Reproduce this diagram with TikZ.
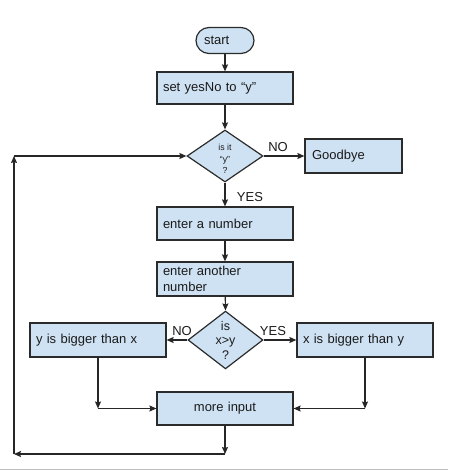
\documentclass[tikz,border=0pt]{standalone}
\usepackage{fontspec}
\setmainfont{Liberation Sans}
\usetikzlibrary{arrows.meta,shapes.geometric}
\definecolor{boxfill}{HTML}{CFE2F3}
\definecolor{boxline}{HTML}{2B2B2B}
\definecolor{txt}{HTML}{1A1A1A}
\begin{document}
\begin{tikzpicture}[x=1pt,y=-1pt,
  base/.style={draw=boxline, fill=boxfill, line width=1.2pt, text=txt},
  box/.style={base, rectangle, minimum height=34pt, text width=124pt, inner xsep=6pt, inner ysep=0pt, align=left, font=\fontsize{13}{16}\selectfont},
  term/.style={base, rectangle, rounded corners=13pt, minimum height=26pt, text width=42pt, inner xsep=8pt, inner ysep=0pt, align=left, font=\fontsize{13}{16}\selectfont},
  decision/.style={base, diamond, minimum width=76pt, minimum height=52pt, inner sep=0pt, align=center},
  lbl/.style={text=txt, inner sep=0pt, font=\fontsize{13}{15}\selectfont},
  arr/.style={draw=black!85, line width=1.2pt, -{Stealth[length=7pt,width=6pt,inset=1pt]}}
]
\useasboundingbox (0,0) rectangle (448,471);
\fill[white] (0,0) rectangle (448,471);
\draw[black!25, line width=1pt] (0,469) -- (448,469);

\node[term] (start) at (225,40.5) {start};
\node[box, minimum height=32pt] (set) at (225,88) {set yesNo to “y”};
\node[decision] (d1) at (225,156) {};
\node[text=txt, inner sep=0pt, align=center, font=\fontsize{8.8}{11.5}\selectfont] (d1t) at (225,159) {is it\\“y”\\?};
\node[box, text width=83pt, inner xsep=7pt] (bye) at (353.5,156) {Goodbye};
\node[box, minimum height=33pt] (num1) at (225,223.5) {enter a number};
\node[box] (num2) at (225,279) {enter another\\number};
\node[decision, minimum width=75pt, font=\fontsize{12.5}{14.5}\selectfont] (d2) at (225.5,340) {is\\x>y\\?};
\node[box] (ybig) at (98,340) {y is bigger than x};
\node[box] (xbig) at (365,340) {x is bigger than y};
\node[box, minimum height=33pt, align=center] (more) at (225,408.5) {more input};

\coordinate (c1) at (98,408.5);
\coordinate (c2) at (365,408.5);
\coordinate (c3) at (225,454);
\coordinate (c4) at (14,454);
\coordinate (c5) at (14,156);

\draw[arr] (start) -- (set);
\draw[arr] (set) -- (d1);
\draw[arr] (d1.east) -- (bye.west);
\draw[arr] (d1.south) -- (num1.north);
\draw[arr] (num1) -- (num2);
\draw[arr] (num2) -- (d2.north);
\draw[arr] (d2.west) -- (ybig.east);
\draw[arr] (d2.east) -- (xbig.west);
\draw[arr] (ybig.south) -- (c1);
\draw[arr] (c1) -- (more.west);
\draw[arr] (xbig.south) -- (c2);
\draw[arr] (c2) -- (more.east);
\draw[arr] (more.south) -- (c3);
\draw[arr] (c3) -- (c4);
\draw[arr] (c4) -- (c5);
\draw[arr] (c5) -- (d1.west);

\node[lbl] (no1) at (278,147) {NO};
\node[lbl] (yes1) at (250,197) {YES};
\node[lbl] (no2) at (182,331) {NO};
\node[lbl] (yes2) at (273,331) {YES};
\end{tikzpicture}
\end{document}
